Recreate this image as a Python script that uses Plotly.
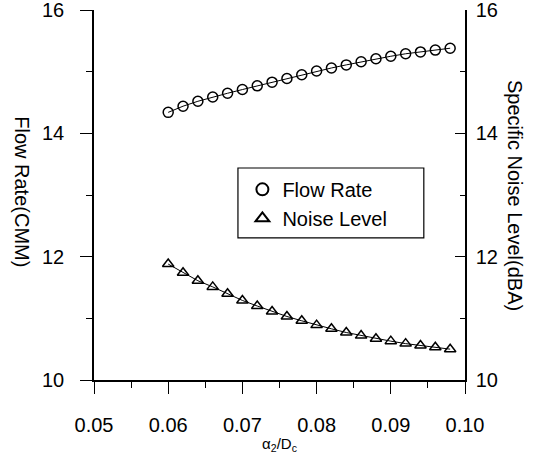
import plotly.graph_objects as go

ratio = [0.060, 0.062, 0.064, 0.066, 0.068, 0.070, 0.072, 0.074, 0.076, 0.078,
         0.080, 0.082, 0.084, 0.086, 0.088, 0.090, 0.092, 0.094, 0.096, 0.098]
flow_rate = [14.34, 14.44, 14.52, 14.59, 14.65, 14.71, 14.77, 14.83, 14.89, 14.95,
             15.01, 15.06, 15.11, 15.16, 15.21, 15.25, 15.29, 15.32, 15.35, 15.38]
noise_level = [11.88, 11.74, 11.61, 11.51, 11.40, 11.29, 11.20, 11.11, 11.03, 10.96,
               10.89, 10.83, 10.77, 10.72, 10.67, 10.63, 10.59, 10.56, 10.53, 10.50]
x_ticks = [0.05, 0.06, 0.07, 0.08, 0.09, 0.10]
x_ticktext = ["0.05", "0.06", "0.07", "0.08", "0.09", "0.10"]
y_ticks = [10, 12, 14, 16]

FONT = "Liberation Sans, Arial, sans-serif"

fig = go.Figure()
fig.add_trace(go.Scatter(x=ratio, y=flow_rate, mode="lines", line=dict(color="black", width=1),
                         showlegend=False, hoverinfo="skip"))
fig.add_trace(go.Scatter(x=ratio, y=flow_rate, mode="markers", name="Flow Rate",
                         marker=dict(symbol="circle-open", size=10, color="black",
                                     line=dict(width=1.5, color="black"))))
fig.add_trace(go.Scatter(x=ratio, y=noise_level, mode="lines", line=dict(color="black", width=1),
                         showlegend=False, hoverinfo="skip", yaxis="y2"))
fig.add_trace(go.Scatter(x=ratio, y=noise_level, mode="markers", name="Noise Level", yaxis="y2",
                         marker=dict(symbol="triangle-up-open", size=10, color="black",
                                     line=dict(width=1.5, color="black"))))

fig.update_layout(
    width=552, height=461,
    margin=dict(l=94, r=87, t=10, b=81, autoexpand=False),
    paper_bgcolor="white", plot_bgcolor="white",
    font=dict(family=FONT, size=20, color="black"),
    xaxis=dict(range=[0.05, 0.10], tickvals=x_ticks, ticktext=x_ticktext, automargin=False,
               showline=True, linecolor="black", linewidth=1.5, showgrid=False, zeroline=False,
               ticks="outside", ticklen=12, tickwidth=1.2, tickcolor="black",
               ticklabelstandoff=14, ticklabeloverflow="allow",
               minor=dict(dtick=0.005, tick0=0.05, ticks="outside", ticklen=6, tickcolor="black",
                          showgrid=False),
               title=dict(text="α<sub>2</sub>/D<sub>c</sub>", font=dict(size=15), standoff=4)),
    yaxis=dict(range=[10, 16], tickvals=y_ticks, automargin=False,
               showline=True, linecolor="black", linewidth=1.5, showgrid=False, zeroline=False,
               ticks="outside", ticklen=12, tickwidth=1.2, tickcolor="black",
               ticklabelstandoff=12, ticklabeloverflow="allow",
               minor=dict(dtick=1, tick0=10, ticks="outside", ticklen=6, tickcolor="black",
                          showgrid=False)),
    yaxis2=dict(range=[10, 16], tickvals=y_ticks, overlaying="y", side="right", automargin=False,
                showline=True, linecolor="black", linewidth=1.5, showgrid=False, zeroline=False,
                ticks="inside", ticklen=10, tickwidth=1.2, tickcolor="black",
                ticklabelstandoff=5, ticklabeloverflow="allow",
                minor=dict(dtick=1, tick0=10, ticks="inside", ticklen=5, tickcolor="black",
                           showgrid=False)),
    legend=dict(x=0.40, y=0.568, xanchor="left", yanchor="top",
                borderwidth=0, bgcolor="rgba(0,0,0,0)",
                font=dict(size=20), itemsizing="constant"),
    shapes=[dict(type="rect", xref="paper", yref="paper", x0=0.388, x1=0.889, y0=0.384, y1=0.573,
                 line=dict(color="black", width=1.2), fillcolor="white", layer="below")],
    annotations=[
        dict(text="Flow Rate(CMM)", textangle=90, xref="paper", yref="paper",
             x=-0.194, y=0.51, showarrow=False, font=dict(size=20),
             xanchor="center", yanchor="middle"),
        dict(text="Specific Noise Level(dBA)", textangle=90, xref="paper", yref="paper",
             x=1.135, y=0.5, showarrow=False, font=dict(size=20),
             xanchor="center", yanchor="middle"),
    ],
)

fig.write_html("out.html")
